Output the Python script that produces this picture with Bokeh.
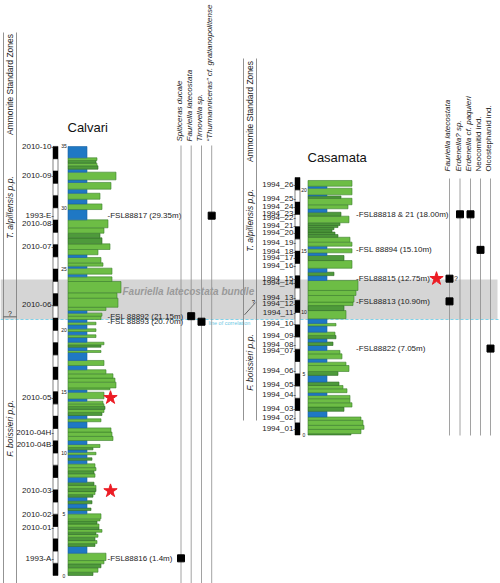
import math
from bokeh.plotting import figure
from bokeh.models import Range1d, ColumnDataSource
from bokeh.core.properties import value
from bokeh.embed import file_html
from bokeh.resources import INLINE

# ---------------- DATA ----------------
# Calvari section: bed tops (m), weathering-profile width (relative units), lithology
calvari_top = [0.27, 0.63, 0.95, 1.22, 1.82, 2.37, 2.60, 2.85, 3.12, 3.35,
               3.53, 3.75, 3.94, 4.20, 4.45, 4.62, 5.03, 5.30, 5.50, 5.85,
               6.10, 6.39, 6.60, 6.85, 7.10, 7.35, 7.61, 8.02, 8.30, 8.55,
               8.80, 9.11, 9.40, 9.60, 9.85, 10.05, 10.25, 10.44, 10.69, 11.01,
               11.35, 11.70, 12.04, 12.54, 12.78, 13.05, 13.30, 13.55, 13.80, 14.00,
               14.22, 14.41, 14.95, 15.15, 15.30, 15.77, 16.10, 16.45, 16.78, 17.13,
               17.54, 18.19, 18.35, 18.62, 18.82, 19.03, 19.41, 19.63, 19.90, 20.12,
               20.45, 20.66, 20.88, 21.15, 21.40, 21.62, 21.88, 22.62, 23.06, 23.98,
               24.36, 24.58, 25.07, 25.23, 25.50, 25.94, 26.16, 26.59, 27.05, 27.54,
               27.92, 28.36, 29.01, 29.85, 30.31, 30.69, 31.18, 31.51, 32.06, 32.27,
               32.90, 33.14, 33.42, 33.63, 33.85, 34.07, 34.99]
calvari_width = [25, 30, 33, 36, 38, 19, 27, 29, 27, 30,
                 28, 34, 31, 31, 29, 32, 33, 19, 23, 19,
                 24, 19, 25, 27, 28, 28, 26, 19, 27, 26,
                 28, 27, 19, 24, 19, 28, 19, 25, 32, 19,
                 45, 44, 43, 19, 33, 19, 34, 36, 37, 36,
                 35, 19, 36, 19, 42, 48, 47, 45, 38, 19,
                 36, 19, 33, 19, 33, 36, 19, 28, 19, 28,
                 19, 28, 19, 33, 34, 19, 38, 50, 49, 53,
                 44, 19, 44, 19, 35, 33, 19, 30, 42, 34,
                 32, 36, 40, 19, 34, 19, 32, 19, 43, 19,
                 48, 19, 30, 29, 28, 29, 19]
calvari_litho = ["D", "L", "D", "L", "L", "B", "D", "L", "D", "L",
                 "D", "L", "D", "L", "D", "L", "L", "B", "D", "B",
                 "D", "B", "D", "L", "D", "L", "D", "B", "L", "D",
                 "L", "L", "B", "D", "B", "L", "B", "D", "L", "B",
                 "L", "L", "L", "B", "L", "B", "D", "L", "D", "L",
                 "L", "B", "L", "B", "L", "L", "L", "L", "L", "B",
                 "L", "B", "L", "B", "D", "L", "B", "L", "B", "L",
                 "B", "L", "B", "L", "L", "B", "L", "L", "L", "L",
                 "L", "B", "L", "B", "L", "L", "B", "L", "L", "D",
                 "D", "L", "L", "B", "L", "B", "L", "B", "L", "B",
                 "L", "B", "D", "L", "D", "L", "B"]

casamata_top = [0.11, 0.46, 0.79, 1.20, 1.47, 1.93, 2.28, 2.63, 2.96, 3.23,
                3.45, 3.77, 4.04, 4.32, 4.86, 5.18, 5.67, 5.94, 6.21, 6.62,
                6.90, 7.30, 7.58, 7.85, 8.12, 8.39, 8.90, 9.10, 9.48, 10.15,
                10.56, 10.84, 11.38, 11.79, 12.60, 13.00, 13.28, 13.60, 14.23, 14.64,
                14.86, 15.19, 15.40, 15.73, 16.13, 16.35, 16.55, 16.75, 16.92, 17.09,
                17.31, 17.85, 18.17, 18.45, 18.78, 19.31, 19.50, 19.59, 20.13, 20.29,
                20.76]
casamata_width = [43, 53, 56, 55, 53, 19, 36, 44, 42, 42,
                  19, 39, 35, 31, 19, 30, 41, 38, 19, 34,
                  32, 19, 25, 19, 28, 27, 19, 28, 19, 38,
                  36, 45, 46, 48, 50, 19, 26, 19, 44, 36,
                  19, 44, 19, 44, 42, 30, 27, 24, 26, 30,
                  32, 41, 33, 19, 40, 44, 33, 19, 44, 19,
                  44]
casamata_litho = ["D", "L", "L", "L", "L", "B", "D", "L", "L", "L",
                  "B", "L", "L", "D", "B", "D", "L", "L", "B", "L",
                  "L", "B", "D", "B", "D", "L", "B", "L", "B", "L",
                  "D", "L", "L", "L", "L", "B", "D", "B", "L", "D",
                  "B", "L", "B", "L", "L", "D", "D", "D", "D", "D",
                  "D", "L", "D", "B", "L", "L", "D", "B", "L", "B",
                  "L"]

calvari_samples = ["2010-10", "2010-09", "1993-E", "2010-08", "2010-07", "2010-06",
                   "2010-05", "2010-04H", "2010-04B", "2010-03", "2010-02", "2010-01", "1993-A"]
calvari_sample_m = [35.0, 32.6, 29.4, 28.7, 26.8, 22.1, 14.5, 11.7, 10.7, 6.9, 5.0, 3.9, 1.4]

casamata_samples = ["1994_26", "1994_25", "1994_24", "1994_23", "1994_22", "1994_21",
                    "1994_20", "1994_19", "1994_18", "1994_17", "1994_16", "1994_15",
                    "1994_14", "1994_13", "1994_12", "1994_11", "1994_10", "1994_09",
                    "1994_08", "1994_07", "1994_06", "1994_05", "1994_04", "1994_03",
                    "1994_02", "1994_01"]
casamata_sample_m = [20.4, 19.3, 18.6, 18.1, 17.7, 17.1, 16.5, 15.7, 15.0, 14.5, 13.8, 12.8,
                     12.4, 11.2, 10.7, 10.0, 9.1, 8.1, 7.4, 6.9, 5.3, 4.1, 3.3, 2.2, 1.4, 0.5]

calvari_fsl = ["-FSL88817 (29.35m)", "-FSL 88892 (21.15m)", "-FSL 88893 (20.70m)", "-FSL88816 (1.4m)"]
calvari_fsl_m = [29.35, 21.15, 20.70, 1.4]
casamata_fsl = ["-FSL88818 & 21 (18.00m)", "-FSL 88894 (15.10m)", "-FSL88815 (12.75m)",
                "-FSL88813 (10.90m)", "-FSL88822 (7.05m)"]
casamata_fsl_m = [18.00, 15.10, 12.75, 10.90, 7.05]

calvari_species = ["Spiticeras ducale", "Fauriella latecostata", "Tirnovella sp.",
                   "\u201cThurmanniceras\u201d cf. gratianopolitense"]
calvari_occ_species = [0, 1, 2, 3]
calvari_occ_m = [1.4, 21.15, 20.70, 29.35]

casamata_species = ["Fauriella latecostata", "Erdenella? sp.", "Erdenella cf. paquieri",
                    "Neocomitid ind.", "Olcostephanid ind."]
casamata_species_italic = [True, True, True, False, False]
casamata_occ_species = [1, 2, 3, 0, 0, 4]
casamata_occ_m = [18.00, 18.00, 15.10, 12.75, 10.90, 7.05]
casamata_occ_uncertain = [False, False, False, True, False, False]

calvari_star_m = [14.5, 6.9]
casamata_star_m = [12.75]

calvari_zone_boundary = 21.1
casamata_zone_boundary = 10.3
bundle_calvari = (20.88, 24.15)     # Fauriella latecostata bundle (Calvari metres)
calvari_height = 35.0
casamata_height = 21.0

# ---------------- LAYOUT ----------------
FONT = "Liberation Sans"
PXM = 12.26                       # pixels per metre
W, H = 500, 583
CALV_BASE_X = 67.5
CASA_BASE_X = 307.5
Y0 = -(H - 575) / PXM             # Calvari metres at bottom edge
CASA_OFFSET = (575 - 434.5) / PXM   # Calvari metres at Casamata 0 m

fill = {"B": "#1f78c4", "L": "#6dbd45", "D": "#4e9a3b"}
edge = {"B": "#1b62a3", "L": "#3b7f2b", "D": "#2e6a24"}

p = figure(width=W, height=H, output_backend="svg", toolbar_location=None,
           x_range=Range1d(0, W), y_range=Range1d(Y0, Y0 + H / PXM),
           x_axis_location=None, y_axis_location=None, min_border=0,
           background_fill_color="white", border_fill_color="white")
p.grid.visible = False
p.outline_line_color = None
p.extra_y_ranges = {"px": Range1d(H, 0),
                    "casa": Range1d(Y0 - CASA_OFFSET, Y0 + H / PXM - CASA_OFFSET)}
p.extra_x_ranges = {"calv": Range1d(-CALV_BASE_X, W - CALV_BASE_X),
                    "casa": Range1d(-CASA_BASE_X, W - CASA_BASE_X)}


def txt(x, y, t, size="8px", align="left", base="middle", angle=0.0, color="#222222",
        style="normal", yr="default", xr="default"):
    p.text(x=x, y=y, text=t, text_font=value(FONT), text_font_size=size,
           text_align=align, text_baseline=base, angle=angle, text_color=color,
           text_font_style=style, y_range_name=yr, x_range_name=xr)


# bundle band + correlation line
p.quad(left=[0], right=[W - 3], bottom=[bundle_calvari[0]], top=[bundle_calvari[1]],
       fill_color="#d5d5d5", line_color=None)
p.segment(x0=[0], x1=[W], y0=[bundle_calvari[0]], y1=[bundle_calvari[0]],
          line_color="#7fd3ea", line_width=1.2, line_dash="3 2")
txt([208], [bundle_calvari[0] - 0.25], ["line of correlation"], size="5.5px", color="#6cc8e4")


def section(tops, widths, litho, xr, yr):
    bottoms = [0.0] + tops[:-1]
    src = ColumnDataSource(dict(b=bottoms, t=tops, w=widths,
                                f=[fill[c] for c in litho], e=[edge[c] for c in litho]))
    p.quad(left=0, right="w", bottom="b", top="t", fill_color="f", line_color="e",
           line_width=0.6, source=src, x_range_name=xr, y_range_name=yr)


assert len(calvari_top) == len(calvari_width) == len(calvari_litho)
assert len(casamata_top) == len(casamata_width) == len(casamata_litho)
section(calvari_top, calvari_width, calvari_litho, "calv", "default")
section(casamata_top, casamata_width, casamata_litho, "casa", "casa")


def scale_bar(x0, x1, height, yr, tick_x):
    segs = list(range(int(math.ceil(height))))
    p.quad(left=x0, right=x1, bottom=segs, top=[s + 1 for s in segs],
           fill_color=["black" if s % 2 == 0 else "white" for s in segs],
           line_color="black", line_width=0.5, y_range_name=yr)
    ticks = list(range(0, int(height) + 1, 5))
    txt([tick_x] * len(ticks), ticks, [str(t) for t in ticks], size="5px",
        align="center", yr=yr, color="#111111")


scale_bar(52.5, 57.5, calvari_height, "default", 63.5)
scale_bar(294.5, 299.5, casamata_height, "casa", 303.5)

# section titles
txt([67], [127], ["Calvari"], size="13px", yr="px", color="#111111")
txt([307], [157], ["Casamata"], size="13px", yr="px", color="#111111")

# sample labels
txt([53.5] * len(calvari_samples), calvari_sample_m, [s + "-" for s in calvari_samples], size="8px",
    align="right")
txt([295.5] * len(casamata_samples), casamata_sample_m, [s + "-" for s in casamata_samples],
    size="8px", align="right", yr="casa")

# FSL labels
txt([107] * len(calvari_fsl), calvari_fsl_m, calvari_fsl, size="8px")
txt([355.5] * len(casamata_fsl), casamata_fsl_m, casamata_fsl, size="8px", yr="casa")

# zone columns
for xs, y0, y1, tx, ty in [((3, 16), 32, 583, 9.5, 84), ((243, 256), 58, 420, 249.5, 111)]:
    p.segment(x0=list(xs), x1=list(xs), y0=[y0, y0], y1=[y1, y1], line_color="#777777",
              line_width=0.8, y_range_name="px")
    txt([tx], [ty], ["Ammonite Standard Zones"], size="8.5px", align="center", angle=math.pi / 2,
        yr="px", color="#222222")
txt([9.5, 9.5], [207, 428], ["T. alpillensis p.p.", "F. boissieri p.p."], size="8.5px",
    align="center", angle=math.pi / 2, yr="px", style="italic")
txt([249.5, 249.5], [220, 362], ["T. alpillensis p.p.", "F. boissieri p.p."], size="8.5px",
    align="center", angle=math.pi / 2, yr="px", style="italic")
p.segment(x0=[3], x1=[16], y0=[calvari_zone_boundary], y1=[calvari_zone_boundary],
          line_color="#444444", line_width=0.8)
txt([9.5], [calvari_zone_boundary], ["?"], size="7px", align="center", base="bottom")
p.segment(x0=[244], x1=[255], y0=[casamata_zone_boundary - 0.5], y1=[casamata_zone_boundary + 0.5],
          line_color="#444444", line_width=0.8, y_range_name="casa")
txt([253], [casamata_zone_boundary + 0.55], ["?"], size="6px", align="center", yr="casa")

# species columns
calv_sp_x = [180.5, 190.7, 201, 211.2]
casa_sp_x = [449, 459.5, 470, 480, 490]
p.segment(x0=calv_sp_x, x1=calv_sp_x, y0=[145] * 4, y1=[583] * 4, line_color="#8a8a8a",
          line_width=0.8, y_range_name="px")
p.segment(x0=casa_sp_x, x1=casa_sp_x, y0=[178] * 5, y1=[435] * 5, line_color="#8a8a8a",
          line_width=0.8, y_range_name="px")
txt([x - 2 for x in calv_sp_x], [141] * 4, calvari_species, size="8px", angle=math.pi / 2,
    yr="px", style="italic")
for i, name in enumerate(casamata_species):
    txt([casa_sp_x[i] - 2], [171], [name], size="8px", angle=math.pi / 2, yr="px",
        style="italic" if casamata_species_italic[i] else "normal")

# occurrences
p.scatter(x=[calv_sp_x[i] for i in calvari_occ_species], y=calvari_occ_m, marker="square",
          size=7, color="black")
p.scatter(x=[casa_sp_x[i] for i in casamata_occ_species], y=casamata_occ_m, marker="square",
          size=7, color="black", y_range_name="casa")
for i, u in enumerate(casamata_occ_uncertain):
    if u:
        txt([casa_sp_x[casamata_occ_species[i]] + 4.5], [casamata_occ_m[i]], ["?"], size="7px",
            yr="casa")

# stars
p.scatter(x=[110] * len(calvari_star_m), y=calvari_star_m, marker="star", size=14,
          color="#ec1c24")
p.scatter(x=[436] * len(casamata_star_m), y=casamata_star_m, marker="star", size=14,
          color="#ec1c24", y_range_name="casa")

# bundle label
txt([122], [291], ["Fauriella latecostata bundle"], size="10px", yr="px",
    style="bold italic", color="#9a9a9a")

open("out.html", "w").write(file_html(p, INLINE))
